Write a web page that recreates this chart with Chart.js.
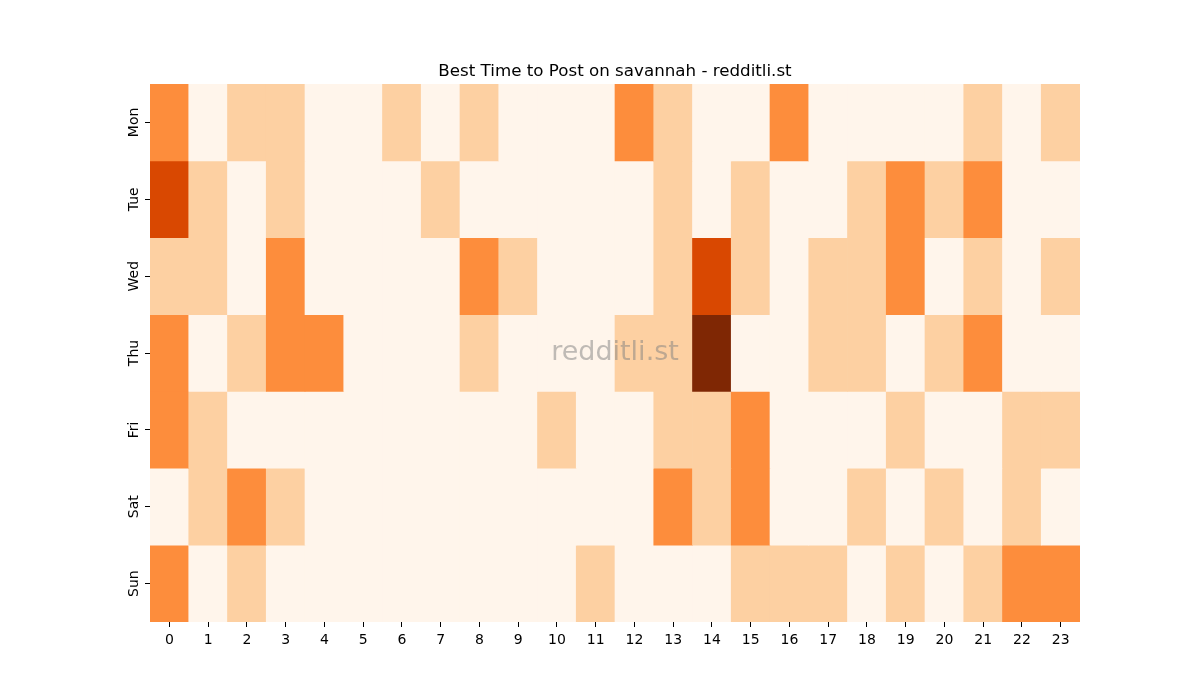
<!DOCTYPE html>
<html>
<head>
<meta charset="utf-8">
<script src="https://cdn.jsdelivr.net/npm/chart.js@4"></script>
<style>
  html, body { margin: 0; padding: 0; background: #fff; }
  #wrap { width: 1200px; height: 700px; }
</style>
</head>
<body>
<div id="wrap"><canvas id="myChart" width="1200" height="700"></canvas></div>
<script>
var ctx = document.getElementById('myChart').getContext('2d');

const hours = ['0', '1', '2', '3', '4', '5', '6', '7', '8', '9', '10', '11',
    '12', '13', '14', '15', '16', '17', '18', '19', '20', '21', '22', '23'];
const days = ['Mon', 'Tue', 'Wed', 'Thu', 'Fri', 'Sat', 'Sun'];
const chartTitle = 'Best Time to Post on savannah - redditli.st';

// posts per hour, one array per weekday
const mon = [2, 0, 1, 1, 0, 0, 1, 0, 1, 0, 0, 0, 2, 1, 0, 0, 2, 0, 0, 0, 0, 1, 0, 1];
const tue = [3, 1, 0, 1, 0, 0, 0, 1, 0, 0, 0, 0, 0, 1, 0, 1, 0, 0, 1, 2, 1, 2, 0, 0];
const wed = [1, 1, 0, 2, 0, 0, 0, 0, 2, 1, 0, 0, 0, 1, 3, 1, 0, 1, 1, 2, 0, 1, 0, 1];
const thu = [2, 0, 1, 2, 2, 0, 0, 0, 1, 0, 0, 0, 1, 1, 4, 0, 0, 1, 1, 0, 1, 2, 0, 0];
const fri = [2, 1, 0, 0, 0, 0, 0, 0, 0, 0, 1, 0, 0, 1, 1, 2, 0, 0, 0, 1, 0, 0, 1, 1];
const sat = [0, 1, 2, 1, 0, 0, 0, 0, 0, 0, 0, 0, 0, 2, 1, 2, 0, 0, 1, 0, 1, 0, 1, 0];
const sun = [2, 0, 1, 0, 0, 0, 0, 0, 0, 0, 0, 1, 0, 0, 0, 1, 1, 1, 0, 1, 0, 1, 2, 2];
const rows = [mon, tue, wed, thu, fri, sat, sun];

const vmax = 4;
// matplotlib "Oranges"
const oranges = [
    [255, 245, 235], [254, 230, 206], [253, 208, 162], [253, 174, 107],
    [253, 141, 60], [241, 105, 19], [217, 72, 1], [166, 54, 3], [127, 39, 4]
];

function orangeColor(v) {
    let t = Math.max(0, Math.min(1, v / vmax)) * (oranges.length - 1);
    let i = Math.min(Math.floor(t), oranges.length - 2);
    let f = t - i;
    let c = oranges[i].map((a, k) => Math.round(a + (oranges[i + 1][k] - a) * f));
    return 'rgb(' + c.join(',') + ')';
}

const datasets = rows.map((row, r) => ({
    label: days[r],
    data: row.map(() => 1),
    backgroundColor: row.map(orangeColor),
    borderWidth: 0,
    barPercentage: 1,
    categoryPercentage: 1
}));

const font = 'DejaVu Sans';

const extras = {
    id: 'extras',
    afterDraw(chart) {
        const c = chart.ctx;
        const area = chart.chartArea;
        const y = chart.scales.y;
        const midX = (area.left + area.right) / 2;
        c.save();
        c.fillStyle = '#000';
        // title, centred over the plot
        c.font = '16.7px "' + font + '"';
        c.textAlign = 'center';
        c.textBaseline = 'alphabetic';
        c.fillText(chartTitle, midX, area.top - 8);
        // day labels, rotated like matplotlib
        c.font = '14px "' + font + '"';
        days.forEach((d, i) => {
            c.save();
            c.translate(area.left - 12.5, y.getPixelForValue(i + 0.5));
            c.rotate(-Math.PI / 2);
            c.fillText(d, 0, 0);
            c.restore();
        });
        // watermark
        c.fillStyle = 'rgba(128,128,128,0.5)';
        c.font = '27px "' + font + '"';
        c.textBaseline = 'middle';
        c.fillText('redditli.st', midX, (area.top + area.bottom) / 2);
        c.restore();
    }
};

var myChart = new Chart(ctx, {
    type: 'bar',
    data: {
        labels: hours,
        datasets: datasets
    },
    options: {
        responsive: false,
        animation: false,
        devicePixelRatio: 1,
        layout: { padding: { left: 0, right: 120, top: 84, bottom: 0 } },
        plugins: {
            legend: { display: false },
            tooltip: { enabled: false },
            title: { display: false }
        },
        scales: {
            x: {
                stacked: true,
                offset: true,
                border: { display: false },
                grid: { offset: false, drawOnChartArea: false, drawTicks: true, tickLength: 5, color: '#000' },
                ticks: { color: '#000', font: { family: font, size: 14 }, padding: 5, maxRotation: 0, autoSkip: false },
                afterFit(scale) { scale.height = 78; }
            },
            y: {
                type: 'linear',
                stacked: true,
                reverse: true,
                min: 0,
                max: 7,
                border: { display: false },
                grid: { drawOnChartArea: false, drawTicks: true, tickLength: 5, color: '#000' },
                ticks: { display: false },
                afterBuildTicks(scale) {
                    scale.ticks = days.map((d, i) => ({ value: i + 0.5 }));
                },
                afterFit(scale) { scale.width = 150; }
            }
        }
    },
    plugins: [extras]
});
</script>
</body>
</html>
